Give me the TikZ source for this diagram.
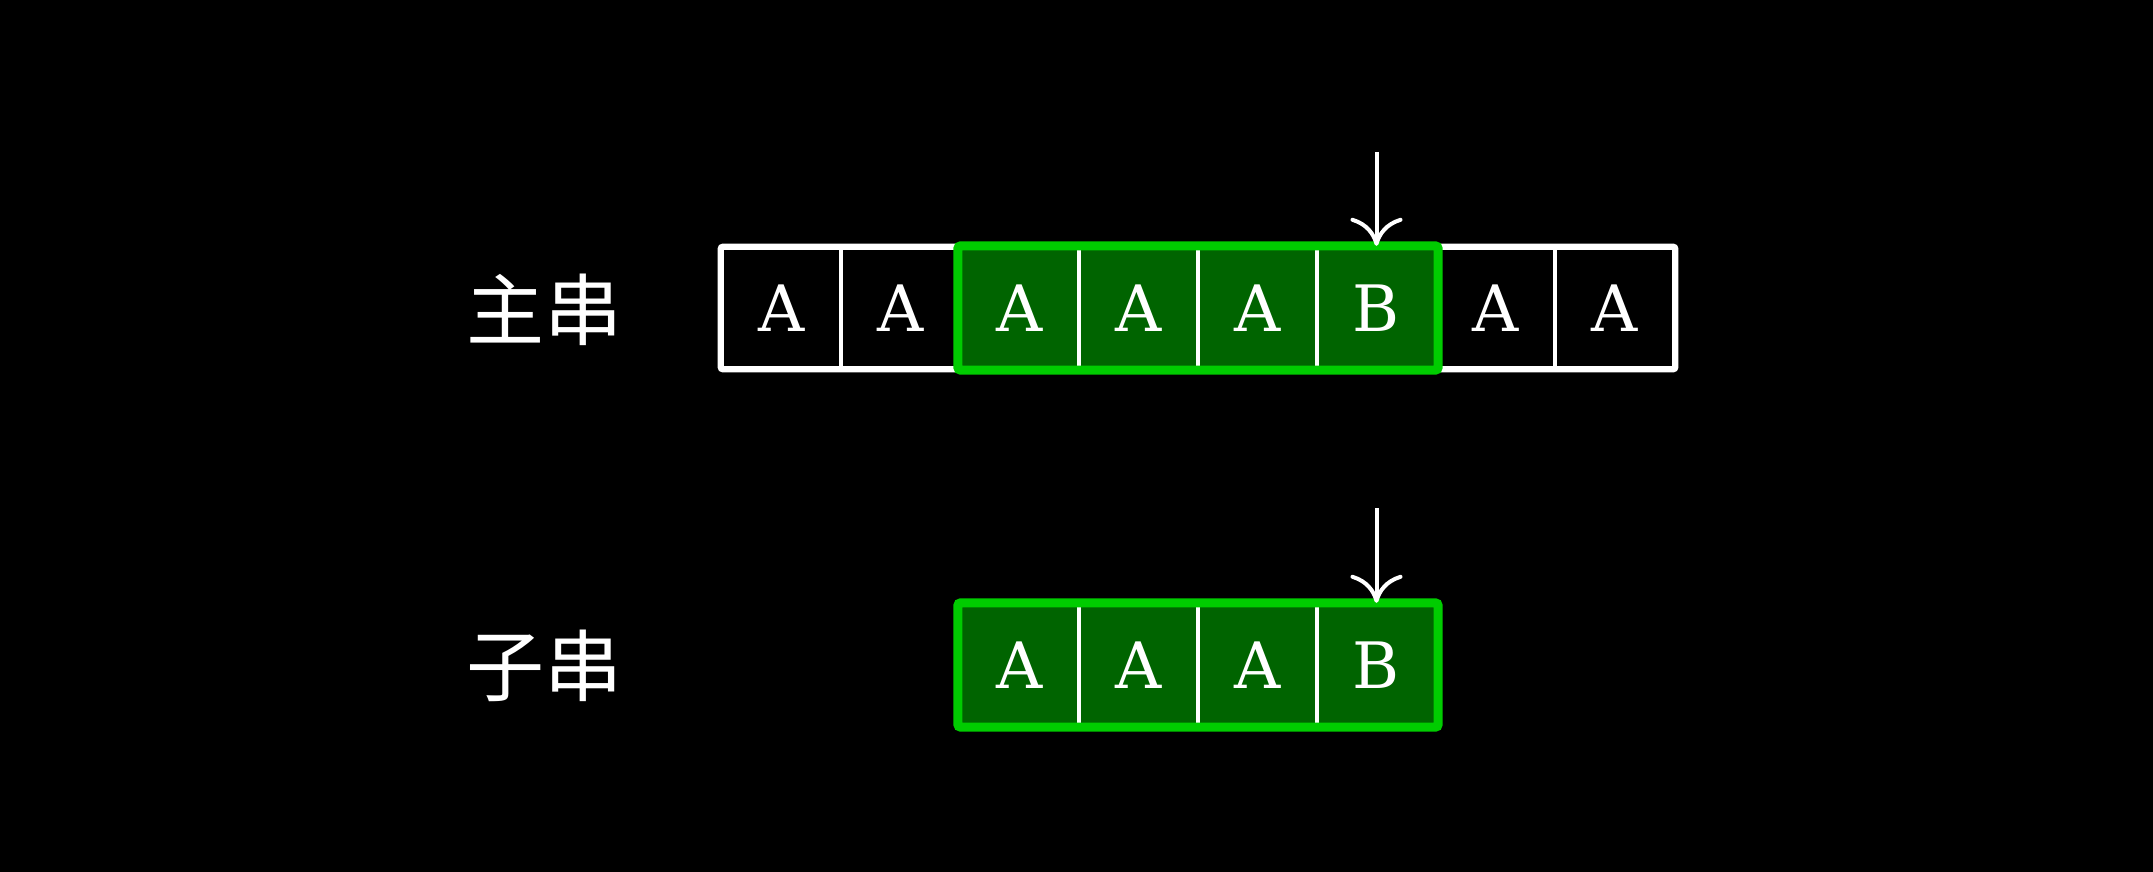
\documentclass[tikz,border=0pt]{standalone}
\usepackage{fontspec}
\newfontfamily\cjk{Noto Sans CJK SC}
\newfontfamily\lmv{DejaVu Serif}
\usetikzlibrary{arrows.meta}
\definecolor{gborder}{RGB}{0,204,0}
\definecolor{gfill}{RGB}{0,100,0}
\tikzset{
  cell/.style={draw=white, line width=2.2pt, minimum width=59.5pt, minimum height=60pt, inner sep=0pt, text=white, font=\lmv\fontsize{32}{32}\selectfont},
  hcell/.style={cell, fill=gfill},
  hbox/.style={draw=gborder, line width=4.5pt, rounded corners=1.5pt},
  lab/.style={text=white, font=\cjk\fontsize{39}{39}\selectfont, inner sep=0pt},
  ptr/.style={draw=white, line width=2pt, -{Computer Modern Rightarrow[length=14pt,width=26pt]}}
}
\begin{document}
\begin{tikzpicture}[x=0.5pt,y=-0.5pt]
\fill[black] (0,0) rectangle (2153,872);
\useasboundingbox (0,0) rectangle (2153,872);
% main string
\node[cell]  (m1) at (781.5,308) {A};
\node[cell]  (m2) at (900.5,308) {A};
\node[hcell] (m3) at (1019.5,308) {A};
\node[hcell] (m4) at (1138.5,308) {A};
\node[hcell] (m5) at (1257.5,308) {A};
\node[hcell] (m6) at (1376.5,308) {B};
\node[cell]  (m7) at (1495.5,308) {A};
\node[cell]  (m8) at (1614.5,308) {A};
\draw[white, line width=2.2pt, rounded corners=1.5pt] (m1.north west) rectangle (m8.south east);
\draw[hbox] (m3.north west) rectangle (m6.south east);
% sub string
\node[hcell] (s1) at (1019.5,665) {A};
\node[hcell] (s2) at (1138.5,665) {A};
\node[hcell] (s3) at (1257.5,665) {A};
\node[hcell] (s4) at (1376.5,665) {B};
\draw[hbox] (s1.north west) rectangle (s4.south east);
% labels
\node[lab] (l1) at (544,310) {主串};
\node[lab] (l2) at (544,666) {子串};
% pointers
\coordinate (a1) at (1376.5,152);
\coordinate (a2) at (1376.5,508);
\draw[ptr] (a1) -- (m6.north);
\draw[ptr] (a2) -- (s4.north);
\end{tikzpicture}
\end{document}
